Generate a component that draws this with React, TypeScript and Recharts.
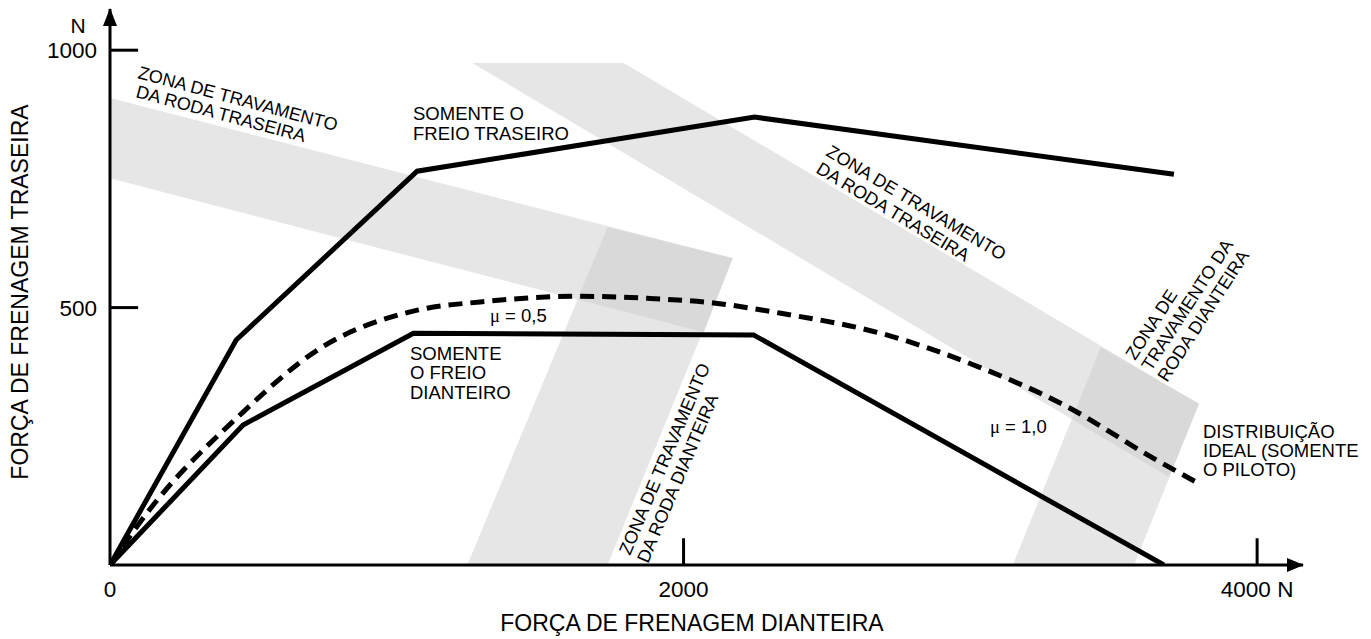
import {
  Area,
  ComposedChart,
  Line,
  ReferenceDot,
  ReferenceLine,
  XAxis,
  YAxis,
} from "recharts";

type Pt = [number, number];

// Axis ticks (N)
const X_TICKS = [0, 2000, 4000];
const Y_TICKS = [500, 1000];

// Braking curves, [front force, rear force] in N
const REAR_ONLY: Pt[] = [[0, 0], [440, 437], [1071, 765], [2248, 870], [3710, 759]];
const FRONT_ONLY: Pt[] = [[0, 0], [464, 272], [1058, 450], [2244, 447], [3675, 0]];
const IDEAL: Pt[] = [
  [0, 0], [129, 101], [464, 297], [722, 417], [1072, 495], [1291, 511],
  [1640, 522], [1874, 518], [2105, 509], [2339, 489], [2688, 450],
  [3037, 383], [3326, 311], [3630, 210], [3794, 159],
];

// Lock-up zones (polygon corners, N)
const REAR_ZONE_A: Pt[] = [[0, 907], [2171, 596], [2070, 452], [0, 751]];
const FRONT_ZONE_A: Pt[] = [[1246, 0], [1735, 0], [2171, 596], [1735, 656]];
const OVERLAP_A: Pt[] = [[1735, 656], [2171, 596], [2070, 452], [1630, 516]];
const REAR_ZONE_B: Pt[] = [[1264, 975], [1791, 975], [3797, 313], [3693, 171]];
const FRONT_ZONE_B: Pt[] = [[3148, 0], [3571, 0], [3797, 313], [3455, 423]];
const OVERLAP_B: Pt[] = [[3455, 423], [3797, 313], [3693, 171], [3354, 283]];

const X_MAX = 4160;
const Y_MAX = 1080;

const FONT = "'Liberation Sans', Arial, Helvetica, sans-serif";
const ZONE = "#e6e6e6";
const ZONE_DARK = "#d9d9d9";

const pts = (p: Pt[]) => p.map(([x, y]) => ({ x, y }));

// convex polygon -> range area rows [low, high] at each corner x
function toRange(poly: Pt[]) {
  const xs = Array.from(new Set(poly.map((p) => p[0]))).sort((a, b) => a - b);
  return xs.map((x) => {
    const ys: number[] = [];
    for (let i = 0; i < poly.length; i++) {
      const [x1, y1] = poly[i];
      const [x2, y2] = poly[(i + 1) % poly.length];
      if (x1 === x2) {
        if (x === x1) ys.push(y1, y2);
        continue;
      }
      if (x >= Math.min(x1, x2) && x <= Math.max(x1, x2)) {
        ys.push(y1 + ((y2 - y1) * (x - x1)) / (x2 - x1));
      }
    }
    return { x, r: [Math.min(...ys), Math.max(...ys)] };
  });
}

const ZONES: { poly: Pt[]; fill: string }[] = [
  { poly: REAR_ZONE_A, fill: ZONE },
  { poly: FRONT_ZONE_A, fill: ZONE },
  { poly: OVERLAP_A, fill: ZONE_DARK },
  { poly: REAR_ZONE_B, fill: ZONE },
  { poly: FRONT_ZONE_B, fill: ZONE },
  { poly: OVERLAP_B, fill: ZONE_DARK },
];

function RotLabel({ x, y, a, children }: { x: number; y: number; a: number; children: string }) {
  return (
    <text x={x} y={y} transform={`rotate(${a} ${x} ${y})`}>
      {children}
    </text>
  );
}

function Mu({ x, y, v }: { x: number; y: number; v: string }) {
  return (
    <text x={x} y={y}>
      <tspan fontFamily="'Liberation Serif', serif">μ</tspan> = {v}
    </text>
  );
}

export default function App() {
  return (
    <div
      style={{
        position: "absolute",
        left: 0,
        top: 0,
        width: 1371,
        height: 639,
        background: "#fff",
        fontFamily: FONT,
      }}
    >
      <ComposedChart
        width={1371}
        height={639}
        margin={{ top: 9, right: 68, bottom: 0, left: 0 }}
      >
        <XAxis
          type="number"
          dataKey="x"
          domain={[0, X_MAX]}
          ticks={X_TICKS}
          interval={0}
          allowDataOverflow
          height={74}
          axisLine={{ stroke: "#000", strokeWidth: 3 }}
          tickLine={false}
          tickSize={0}
          tickMargin={16}
          tick={{ fontSize: 22.5, fill: "#000", fontFamily: FONT }}
          tickFormatter={(v) => (v === 4000 ? "4000 N" : String(v))}
        />
        <YAxis
          type="number"
          domain={[0, Y_MAX]}
          ticks={Y_TICKS}
          interval={0}
          allowDataOverflow
          width={110}
          axisLine={{ stroke: "#000", strokeWidth: 3 }}
          tickLine={false}
          tickSize={0}
          tickMargin={13}
          tick={{ fontSize: 22.5, fill: "#000", fontFamily: FONT }}
        />

        {ZONES.map((z, i) => (
          <Area
            key={i}
            data={toRange(z.poly)}
            dataKey="r"
            type="linear"
            fill={z.fill}
            fillOpacity={1}
            stroke="none"
            dot={false}
            activeDot={false}
            isAnimationActive={false}
          />
        ))}

        {/* tick marks drawn inside the plot */}
        <ReferenceLine segment={[{ x: 2000, y: 0 }, { x: 2000, y: 52 }]} stroke="#000" strokeWidth={3} />
        <ReferenceLine segment={[{ x: 4000, y: 0 }, { x: 4000, y: 52 }]} stroke="#000" strokeWidth={3} />
        <ReferenceLine segment={[{ x: 0, y: 500 }, { x: 98, y: 500 }]} stroke="#000" strokeWidth={3} />
        <ReferenceLine segment={[{ x: 0, y: 1000 }, { x: 98, y: 1000 }]} stroke="#000" strokeWidth={3} />

        <Line
          data={pts(REAR_ONLY)}
          dataKey="y"
          type="linear"
          stroke="#000"
          strokeWidth={5}
          dot={false}
          activeDot={false}
          isAnimationActive={false}
        />
        <Line
          data={pts(FRONT_ONLY)}
          dataKey="y"
          type="linear"
          stroke="#000"
          strokeWidth={5}
          dot={false}
          activeDot={false}
          isAnimationActive={false}
        />
        <Line
          data={pts(IDEAL)}
          dataKey="y"
          type="monotone"
          stroke="#000"
          strokeWidth={5}
          strokeDasharray="14 8"
          dot={false}
          activeDot={false}
          isAnimationActive={false}
        />

        {/* axis arrowheads */}
        <ReferenceDot
          x={X_MAX}
          y={0}
          ifOverflow="visible"
          shape={(p: any) => (
            <polygon
              points={`${p.cx + 1},${p.cy} ${p.cx - 16},${p.cy - 7} ${p.cx - 16},${p.cy + 7}`}
              fill="#000"
            />
          )}
        />
        <ReferenceDot
          x={0}
          y={Y_MAX}
          ifOverflow="visible"
          shape={(p: any) => (
            <polygon
              points={`${p.cx},${p.cy - 1} ${p.cx - 7},${p.cy + 17} ${p.cx + 7},${p.cy + 17}`}
              fill="#000"
            />
          )}
        />
      </ComposedChart>

      <svg
        width={1371}
        height={639}
        style={{ position: "absolute", left: 0, top: 0, pointerEvents: "none" }}
        fontFamily={FONT}
        fill="#000"
      >
        <text x={78} y={33} fontSize={21} textAnchor="middle">N</text>
        <text x={692} y={631} fontSize={23} textAnchor="middle">
          FORÇA DE FRENAGEM DIANTEIRA
        </text>
        <text x={28} y={292} fontSize={23} textAnchor="middle" transform="rotate(-90 28 292)">
          FORÇA DE FRENAGEM TRASEIRA
        </text>

        <g fontSize={18.5}>
          <text x={413} y={120}>SOMENTE O</text>
          <text x={413} y={140}>FREIO TRASEIRO</text>

          <text x={410} y={360}>SOMENTE</text>
          <text x={410} y={379}>O FREIO</text>
          <text x={410} y={399}>DIANTEIRO</text>

          <Mu x={490} y={322} v="0,5" />
          <Mu x={990} y={433} v="1,0" />

          <text x={1203} y={438}>DISTRIBUIÇÃO</text>
          <text x={1203} y={457}>IDEAL (SOMENTE</text>
          <text x={1203} y={476}>O PILOTO)</text>
        </g>

        <g fontSize={18}>
          <RotLabel x={137} y={78} a={15}>ZONA DE TRAVAMENTO</RotLabel>
          <RotLabel x={135} y={97} a={15}>DA RODA TRASEIRA</RotLabel>

          <RotLabel x={825} y={155} a={31}>ZONA DE TRAVAMENTO</RotLabel>
          <RotLabel x={815} y={172} a={31}>DA RODA TRASEIRA</RotLabel>

          <RotLabel x={630} y={556} a={-67}>ZONA DE TRAVAMENTO</RotLabel>
          <RotLabel x={648} y={564} a={-67}>DA RODA DIANTEIRA</RotLabel>

          <RotLabel x={1135} y={361} a={-57}>ZONA DE</RotLabel>
          <RotLabel x={1151} y={372} a={-57}>TRAVAMENTO DA</RotLabel>
          <RotLabel x={1167} y={383} a={-57}>RODA DIANTEIRA</RotLabel>
        </g>
      </svg>
    </div>
  );
}
